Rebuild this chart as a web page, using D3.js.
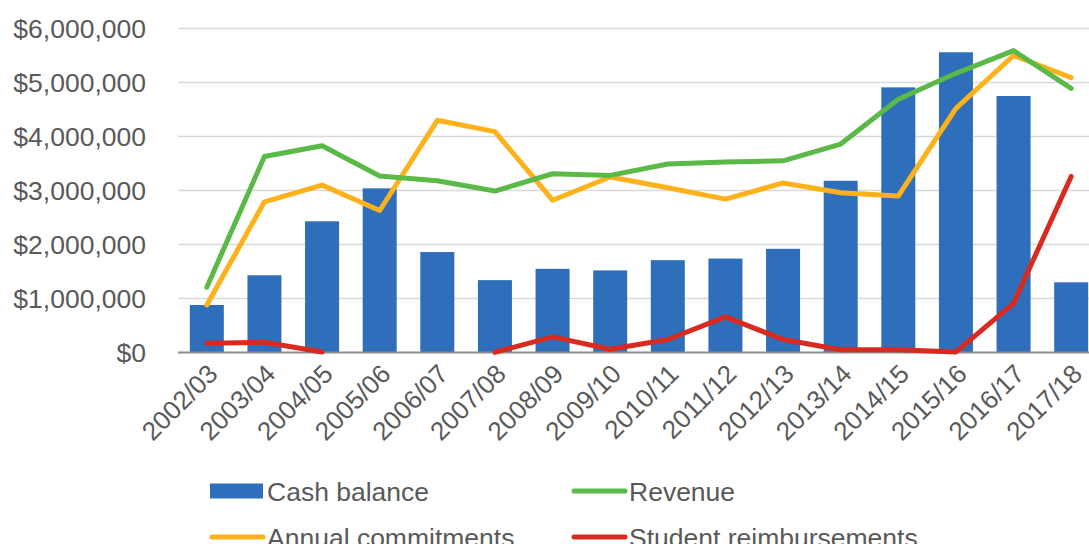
<!DOCTYPE html>
<html>
<head>
<meta charset="utf-8">
<script src="https://cdn.jsdelivr.net/npm/d3@7"></script>
<style>
  html, body { margin: 0; padding: 0; background: #fff; overflow: hidden; }
  text { font-family: "Liberation Sans", Arial, sans-serif; fill: #595959; }
</style>
</head>
<body>
<svg id="chart" width="1089" height="544"></svg>
<script>
const categories = ["2002/03","2003/04","2004/05","2005/06","2006/07","2007/08","2008/09","2009/10","2010/11","2011/12","2012/13","2013/14","2014/15","2015/16","2016/17","2017/18"];
const cashBalance = [880000,1430000,2430000,3040000,1860000,1340000,1550000,1520000,1710000,1740000,1920000,3180000,4910000,5560000,4750000,1300000];
const revenue = [1210000,3630000,3830000,3270000,3180000,2990000,3310000,3280000,3490000,3530000,3550000,3860000,4690000,5170000,5590000,4890000];
const annualCommitments = [880000,2790000,3100000,2630000,4300000,4090000,2820000,3250000,3050000,2840000,3140000,2960000,2900000,4520000,5500000,5090000];
const studentReimbursements = [170000,190000,10000,null,null,5000,290000,60000,240000,660000,240000,50000,50000,10000,910000,3260000];
const yTicks = [0,1000000,2000000,3000000,4000000,5000000,6000000];
const seriesNames = ["Cash balance","Revenue","Annual commitments","Student reimbursements"];

const colors = {bar:"#2E6EBA", revenue:"#5BB947", commit:"#FDB11B", student:"#D92A1F"};
const FS = "26.5px";

const svg = d3.select("#chart");
const x = d3.scaleBand().domain(categories).range([178, 1100]).paddingInner(0.41).paddingOuter(0.205);
const y = d3.scaleLinear().domain([0, 6000000]).range([352.5, 28.5]);

// gridlines
svg.append("g").selectAll("line").data(yTicks.filter(d => d > 0)).join("line")
  .attr("x1", 178).attr("x2", 1089)
  .attr("y1", d => y(d)).attr("y2", d => y(d))
  .attr("stroke", "#d9d9d9").attr("stroke-width", 1.5);

// y labels
const fmt = d3.format(",");
svg.append("g").selectAll("text").data(yTicks).join("text")
  .attr("x", 146).attr("y", d => y(d))
  .attr("dy", "0.36em")
  .attr("text-anchor", "end")
  .style("font-size", FS)
  .text(d => "$" + fmt(d));

// bars
svg.append("g").selectAll("rect").data(categories).join("rect")
  .attr("x", d => x(d)).attr("width", x.bandwidth())
  .attr("y", (d,i) => y(cashBalance[i]))
  .attr("height", (d,i) => y(0) - y(cashBalance[i]))
  .attr("fill", colors.bar);

// axis line
svg.append("line").attr("x1", 178).attr("x2", 1089).attr("y1", y(0)).attr("y2", y(0))
  .attr("stroke", "#8c8c8c").attr("stroke-width", 2);

// x labels
svg.append("g").selectAll("text").data(categories).join("text")
  .attr("transform", d => `translate(${x(d) + x.bandwidth()/2 + 6},${369}) rotate(-45)`)
  .attr("text-anchor", "end")
  .attr("dy", "0.35em")
  .style("font-size", "26px")
  .text(d => d);

// lines
const cx = d => x(d) + x.bandwidth()/2;
function drawLine(vals, color) {
  const line = d3.line()
    .defined(d => d.v !== null)
    .x(d => cx(d.c)).y(d => y(d.v));
  svg.append("path")
    .datum(categories.map((c,i) => ({c, v: vals[i]})))
    .attr("d", line)
    .attr("fill", "none").attr("stroke", color).attr("stroke-width", 5)
    .attr("stroke-linejoin", "round").attr("stroke-linecap", "round");
}
drawLine(annualCommitments, colors.commit);
drawLine(revenue, colors.revenue);
drawLine(studentReimbursements, colors.student);

// legend
const legend = [
  {name: seriesNames[0], type: "rect", color: colors.bar, x: 210, y: 491},
  {name: seriesNames[1], type: "line", color: colors.revenue, x: 572, y: 491},
  {name: seriesNames[2], type: "line", color: colors.commit, x: 210, y: 537},
  {name: seriesNames[3], type: "line", color: colors.student, x: 572, y: 537}
];
const lg = svg.append("g");
legend.forEach(l => {
  if (l.type === "rect") {
    lg.append("rect").attr("x", l.x).attr("y", l.y - 7.5).attr("width", 53).attr("height", 15).attr("fill", l.color);
  } else {
    lg.append("line").attr("x1", l.x + 2).attr("x2", l.x + 53).attr("y1", l.y).attr("y2", l.y)
      .attr("stroke", l.color).attr("stroke-width", 5).attr("stroke-linecap", "round");
  }
  lg.append("text").attr("x", l.x + 57).attr("y", l.y).attr("dy", "0.36em")
    .style("font-size", FS).text(l.name);
});
</script>
</body>
</html>
